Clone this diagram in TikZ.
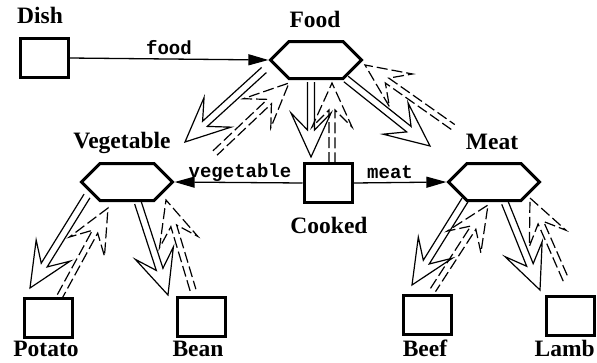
\documentclass[tikz,border=0pt]{standalone}
\usepackage{fontspec}
\setmainfont{Liberation Serif}
\setmonofont{Liberation Mono}
\usetikzlibrary{calc,arrows.meta,shapes.symbols}
\newcommand\arrD{3.5pt}
\newcommand\arrIns{27pt}
\newcommand\arrHL{44pt}
\newcommand\arrHW{20pt}
\newcommand\solidarr[2]{%
  \draw[arrline] ($(#1)!\arrD!90:(#2)$) -- ($(#2)!\arrIns!(#1)!\arrD!90:(#2)$)
    -- ($(#2)!\arrHL!(#1)!\arrHW!90:(#2)$) -- (#2)
    -- ($(#2)!\arrHL!(#1)!\arrHW!-90:(#2)$) -- ($(#2)!\arrIns!(#1)!\arrD!-90:(#2)$)
    -- ($(#1)!\arrD!-90:(#2)$);}
\newcommand\dasharr[2]{%
  \draw[dashline] ($(#1)!3pt!90:(#2)$) -- ($(#2)!\arrIns!(#1)!3pt!90:(#2)$)
    -- ($(#2)!\arrHL!(#1)!\arrHW!90:(#2)$) -- (#2)
    -- ($(#2)!\arrHL!(#1)!\arrHW!-90:(#2)$) -- ($(#2)!\arrIns!(#1)!3pt!-90:(#2)$)
    -- ($(#1)!3pt!-90:(#2)$);}
\begin{document}
\begin{tikzpicture}[x=1pt,y=-1pt,
  box/.style={draw,line width=3pt,minimum width=48pt,minimum height=39pt,inner sep=0pt},
  hexa/.style={draw,line width=3pt,signal,signal to=west and east,signal pointer angle=90,minimum width=91pt,minimum height=37pt,inner sep=0pt},
  lbl/.style={font=\bfseries\fontsize{23.5}{23.5}\selectfont,anchor=base,inner sep=0pt},
  mono/.style={font=\ttfamily\bfseries\fontsize{19}{19}\selectfont,anchor=base,inner sep=0pt},
  link/.style={line width=1.3pt,-{Triangle[length=20pt,width=11pt]}},
  arrline/.style={line width=1.2pt,line join=miter},
  dashline/.style={arrline,dash pattern=on 11pt off 4pt}]
\useasboundingbox (0,0) rectangle (597,362);
% nodes
\node[box] (dish) at (44,58) {};
\node[hexa] (food) at (316,60) {};
\node[hexa] (veg) at (127,182) {};
\node[hexa] (meat) at (494,182) {};
\node[box] (cooked) at (328,183) {};
\node[box] (potato) at (48,318) {};
\node[box] (bean) at (201,317) {};
\node[box] (beef) at (427,315) {};
\node[box] (lamb) at (570,316) {};
% labels
\node[lbl] (dishL) at (40,23) {Dish};
\node[lbl] (foodL) at (315,27) {Food};
\node[lbl] (vegL) at (122,148) {Vegetable};
\node[lbl] (meatL) at (492,149) {Meat};
\node[lbl] (cookedL) at (329,233) {Cooked};
\node[lbl] (potatoL) at (46,356) {Potato};
\node[lbl] (beanL) at (198,356) {Bean};
\node[lbl] (beefL) at (425,356) {Beef};
\node[lbl,anchor=base east] (lambL) at (595,356) {Lamb};
% plain links
\draw[link] (dish.east) -- node[mono,above=4pt] (foodT) {food} (food.west);
\draw[link] (cooked.west) -- (veg.east);
\draw[link] (cooked.east) -- (meat.west);
\node[mono] (vegT) at (240,177) {vegetable};
\node[mono] (meatT) at (390,178) {meat};
% arrow end points
\coordinate (a1s) at (264,70);  \coordinate (a1t) at (185,142);
\coordinate (a2s) at (215,153); \coordinate (a2t) at (289,83);
\coordinate (a3s) at (311,82);  \coordinate (a3t) at (311,157);
\coordinate (a4s) at (332,163); \coordinate (a4t) at (332,83);
\coordinate (a5s) at (346,79);  \coordinate (a5t) at (430,146);
\coordinate (a6s) at (453,127); \coordinate (a6t) at (365,65);
\coordinate (a7s) at (87,196);  \coordinate (a7t) at (30,288);
\coordinate (a8s) at (60,296);  \coordinate (a8t) at (108,208);
\coordinate (a9s) at (138,203); \coordinate (a9t) at (168,295);
\coordinate (a10s) at (193,290); \coordinate (a10t) at (166,200);
\coordinate (a11s) at (465,200); \coordinate (a11t) at (412,285);
\coordinate (a12s) at (433,290); \coordinate (a12t) at (488,205);
\coordinate (a13s) at (505,203); \coordinate (a13t) at (540,290);
\coordinate (a14s) at (566,280); \coordinate (a14t) at (530,198);
\solidarr{a1s}{a1t}
\dasharr{a2s}{a2t}
\solidarr{a3s}{a3t}
\dasharr{a4s}{a4t}
\solidarr{a5s}{a5t}
\dasharr{a6s}{a6t}
\solidarr{a7s}{a7t}
\dasharr{a8s}{a8t}
\solidarr{a9s}{a9t}
\dasharr{a10s}{a10t}
\solidarr{a11s}{a11t}
\dasharr{a12s}{a12t}
\solidarr{a13s}{a13t}
\dasharr{a14s}{a14t}
\end{tikzpicture}
\end{document}
